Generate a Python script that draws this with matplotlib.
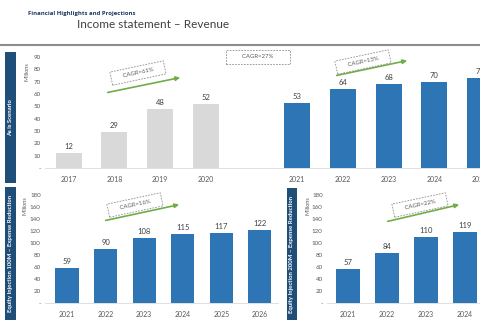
import matplotlib
matplotlib.use('Agg')
import matplotlib.pyplot as plt
from matplotlib.patches import Rectangle, FancyArrowPatch

plt.rcParams['font.family'] = ['Lato', 'DejaVu Sans']

# data
top_years = ['2017', '2018', '2019', '2020', '2021', '2022', '2023', '2024', '2025']
top_pos = [0, 1, 2, 3, 5, 6, 7, 8, 9]
top_vals = [12, 29, 48, 52, 53, 64, 68, 70, 73]
top_colors = ['#d9d9d9'] * 4 + ['#2e75b6'] * 5
top_ticks = [0, 10, 20, 30, 40, 50, 60, 70, 80, 90]

eq100_years = ['2021', '2022', '2023', '2024', '2025', '2026']
eq100_vals = [59, 90, 108, 115, 117, 122]

eq200_years = ['2021', '2022', '2023', '2024']
eq200_vals = [57, 84, 110, 119]

bottom_ticks = [0, 20, 40, 60, 80, 100, 120, 140, 160, 180]

W, H = 480, 320
fig = plt.figure(figsize=(4.8, 3.2), dpi=100)
fig.patch.set_facecolor('white')


def fx(px):
    return px / W


def fy(py):
    return 1 - py / H


def px_axes(left, top, right, bottom):
    return fig.add_axes([fx(left), fy(bottom), fx(right - left), (bottom - top) / H])


def style(ax, ticks):
    for s in ['top', 'right', 'left']:
        ax.spines[s].set_visible(False)
    ax.spines['bottom'].set_color('#d9d9d9')
    ax.spines['bottom'].set_linewidth(0.6)
    ax.set_yticks(ticks)
    ax.set_yticklabels(['-'] + [str(t) for t in ticks[1:]])
    ax.tick_params(length=0, labelsize=4.5, colors='#595959', pad=3)
    ax.tick_params(axis='x', labelsize=5, pad=6)
    ax.patch.set_alpha(0)


def bar_labels(ax, xs, vals, off):
    for x, v in zip(xs, vals):
        ax.text(x, v + off, str(v), ha='center', va='bottom', fontsize=5.5, color='#404040')


# header
fig.text(fx(28), fy(14), 'Financial Highlights and Projections', fontsize=4.3,
         fontweight='bold', color='#1f3864', va='center', family='Open Sans')
fig.text(fx(77), fy(25), 'Income statement \u2013 Revenue', fontsize=8.5,
         color='#404040', va='center')
fig.add_artist(plt.Line2D([0, 1], [fy(45), fy(45)], color='#8c8c8c', lw=1.5))

# side bands
bands = [(5, 52, 11, 131, 'As is Scenario'),
         (5, 187, 11, 135, 'Equity Injection 100M \u2013 Expense Reduction'),
         (287, 188, 10, 134, 'Equity Injection 200M \u2013 Expense Reduction')]
for bx, by, bw, bh, label in bands:
    fig.add_artist(Rectangle((fx(bx), fy(by + bh)), fx(bw), bh / H,
                             facecolor='#1f4e79', edgecolor='none'))
    fig.text(fx(bx + bw / 2), fy(by + min(bh, 320 - by) / 2), label, rotation=90,
             ha='center', va='center', fontsize=4.3, color='white', fontweight='bold')

# top chart
ax1 = px_axes(45, 51, 480, 168)
ax1.bar(top_pos, top_vals, width=0.57, color=top_colors)
ax1.set_xlim(-0.52, 8.93)
ax1.set_ylim(0, 95)
ax1.set_xticks(top_pos)
ax1.set_xticklabels(top_years)
style(ax1, top_ticks)
bar_labels(ax1, top_pos, top_vals, 2.5)
ax1.set_ylabel('Millions', fontsize=4, color='#595959', labelpad=2)
ax1.yaxis.set_label_coords(-0.035, 0.82)

# bottom left chart
ax2 = px_axes(45, 189, 278, 303)
xs2 = list(range(len(eq100_vals)))
ax2.bar(xs2, eq100_vals, width=0.6, color='#2e75b6')
ax2.set_xlim(-0.57, 5.47)
ax2.set_ylim(0, 190)
ax2.set_xticks(xs2)
ax2.set_xticklabels(eq100_years)
style(ax2, bottom_ticks)
bar_labels(ax2, xs2, eq100_vals, 5)
ax2.set_ylabel('Millions', fontsize=4, color='#595959', labelpad=2)
ax2.yaxis.set_label_coords(-0.075, 0.85)

# bottom right chart
ax3 = px_axes(327, 189, 480, 303)
xs3 = list(range(len(eq200_vals)))
ax3.bar(xs3, eq200_vals, width=0.6, color='#2e75b6')
ax3.set_xlim(-0.54, 3.38)
ax3.set_ylim(0, 190)
ax3.set_xticks(xs3)
ax3.set_xticklabels(eq200_years)
style(ax3, bottom_ticks)
bar_labels(ax3, xs3, eq200_vals, 5)
ax3.set_ylabel('Millions', fontsize=4, color='#595959', labelpad=2)
ax3.yaxis.set_label_coords(-0.11, 0.85)

# CAGR boxes and arrows (pixel positions on the slide)
cagr = [(138, 73, 'CAGR=61%', 12), (258, 57, 'CAGR=27%', 0),
        (363, 62, 'CAGR=13%', 12), (135, 205, 'CAGR=16%', 12),
        (420, 205, 'CAGR=22%', 12)]
for cx, cy, txt, rot in cagr:
    b = dict(boxstyle='square,pad=0.7', facecolor='white', edgecolor='#8c8c8c',
             linestyle=(0, (2, 1.5)), linewidth=0.6)
    pad = '        ' if rot == 0 else '     '
    fig.text(fx(cx), fy(cy), pad + txt + pad, fontsize=4.3, color='#595959',
             rotation=rot, ha='center', va='center', bbox=b, rotation_mode='anchor')

arrows = [((105, 93), (183, 77)), ((334, 76), (410, 60)),
          ((103, 221), (182, 204)), ((385, 222), (462, 204))]
for (x0, y0), (x1, y1) in arrows:
    fig.add_artist(FancyArrowPatch(
        (fx(x0), fy(y0)), (fx(x1), fy(y1)), transform=fig.transFigure,
        arrowstyle='-|>,head_length=2.5,head_width=1.2', color='#70ad47', lw=1.2))

fig.savefig('out.png', dpi=100)
